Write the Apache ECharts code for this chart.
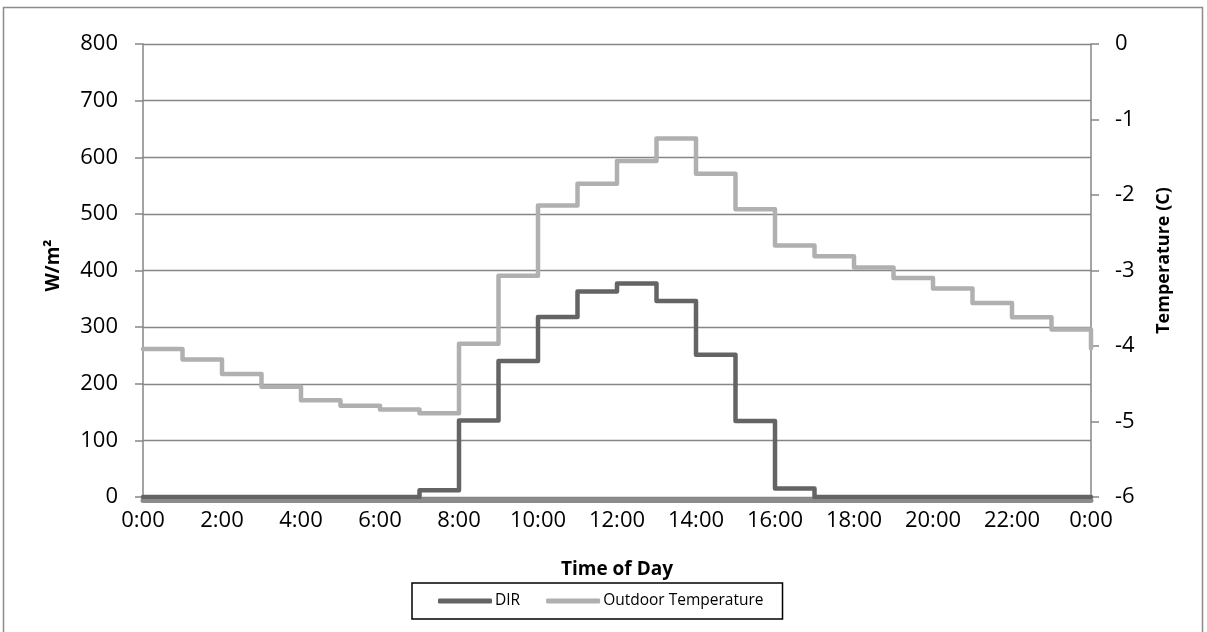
<!DOCTYPE html>
<html>
<head>
<meta charset="utf-8">
<script src="https://cdn.jsdelivr.net/npm/echarts@6/dist/echarts.min.js"></script>
<style>
  html, body { margin: 0; padding: 0; background: #ffffff; }
  #chart { width: 1207px; height: 632px; }
</style>
</head>
<body>
<div id="chart"></div>
<script>
// Hour of day (0..24), each value holds until the next hour
const hours = [0,1,2,3,4,5,6,7,8,9,10,11,12,13,14,15,16,17,18,19,20,21,22,23,24];
// Direct irradiance, W/m²
const dirValues = [0,0,0,0,0,0,0,12,135,240,318,363,377,346,251,134,15,0,0,0,0,0,0,0,0];
// Outdoor air temperature, °C
const tempValues = [-4.04,-4.18,-4.37,-4.54,-4.72,-4.79,-4.84,-4.89,-3.97,-3.07,-2.14,-1.85,-1.55,-1.25,-1.72,-2.19,-2.67,-2.81,-2.96,-3.10,-3.24,-3.43,-3.62,-3.78,-4.03];
const seriesNames = ['DIR', 'Outdoor Temperature'];

const FONT = '"Open Sans", "Liberation Sans", sans-serif';
const AXIS_GRAY = '#868686';

const chart = echarts.init(document.getElementById('chart'), null, { renderer: 'canvas' });

chart.setOption({
  animation: false,
  backgroundColor: '#ffffff',
  textStyle: { fontFamily: FONT, color: '#000' },
  graphic: [{
    type: 'rect',
    shape: { x: 3.5, y: 7.5, width: 1199, height: 640 },
    style: { fill: 'none', stroke: '#8c8c8c', lineWidth: 1.5 },
    silent: true, z: -1
  }],
  grid: { left: 143, right: 116, top: 44, bottom: 135 },
  legend: {
    data: seriesNames,
    left: 412, top: 583,
    padding: [10, 19, 10, 26],
    itemGap: 26,
    itemWidth: 54, itemHeight: 5,
    icon: 'roundRect',
    borderColor: '#000', borderWidth: 1.5,
    textStyle: { fontFamily: FONT, fontSize: 15.5, color: '#000', padding: [0, 0, 0, -2] }
  },
  xAxis: {
    type: 'value',
    min: 0, max: 24, interval: 2,
    offset: 3,
    name: 'Time of Day',
    nameLocation: 'middle',
    nameGap: 60,
    nameTextStyle: { fontFamily: FONT, fontSize: 19, fontWeight: 'bold', color: '#000' },
    axisLine: { show: true, onZero: false, lineStyle: { color: '#8c8c8c', width: 5 } },
    axisTick: { show: false },
    splitLine: { show: false },
    axisLabel: {
      margin: 10,
      fontFamily: FONT, fontSize: 22, color: '#000',
      formatter: v => (v % 24) + ':00'
    }
  },
  yAxis: [{
    type: 'value',
    min: 0, max: 800, interval: 100,
    name: 'W/m²',
    nameLocation: 'middle',
    nameGap: 80,
    nameTextStyle: { fontFamily: FONT, fontSize: 19, fontWeight: 'bold', color: '#000', padding: [0, 0, 0, 10] },
    axisLine: { show: true, lineStyle: { color: AXIS_GRAY, width: 1.5 } },
    axisTick: { show: true, inside: false, length: 8, lineStyle: { color: AXIS_GRAY, width: 1.5 } },
    splitLine: { show: true, lineStyle: { color: AXIS_GRAY, width: 1.3 } },
    axisLabel: { margin: 25, fontFamily: FONT, fontSize: 22, color: '#000' }
  }, {
    type: 'value',
    position: 'right',
    min: -6, max: 0, interval: 1,
    name: 'Temperature (C)',
    nameLocation: 'middle',
    nameGap: 64,
    nameTextStyle: { fontFamily: FONT, fontSize: 18, fontWeight: 'bold', color: '#000', padding: [0, 0, 0, 20] },
    axisLine: { show: true, lineStyle: { color: AXIS_GRAY, width: 1.5 } },
    axisTick: { show: true, inside: false, length: 8, lineStyle: { color: AXIS_GRAY, width: 1.5 } },
    splitLine: { show: false },
    axisLabel: { margin: 24, fontFamily: FONT, fontSize: 22, color: '#000' }
  }],
  series: [{
    name: seriesNames[0],
    type: 'line',
    step: 'end',
    yAxisIndex: 0,
    showSymbol: false, symbol: 'none',
    color: '#646464',
    lineStyle: { color: '#646464', width: 4.5, join: 'round', cap: 'round' },
    data: hours.map((h, i) => [h, dirValues[i]]),
    z: 3
  }, {
    name: seriesNames[1],
    type: 'line',
    step: 'end',
    yAxisIndex: 1,
    showSymbol: false, symbol: 'none',
    color: '#b0b0b0',
    lineStyle: { color: '#b0b0b0', width: 4.5, join: 'round', cap: 'round' },
    data: hours.map((h, i) => [h, tempValues[i]]),
    z: 4
  }]
});
</script>
</body>
</html>
